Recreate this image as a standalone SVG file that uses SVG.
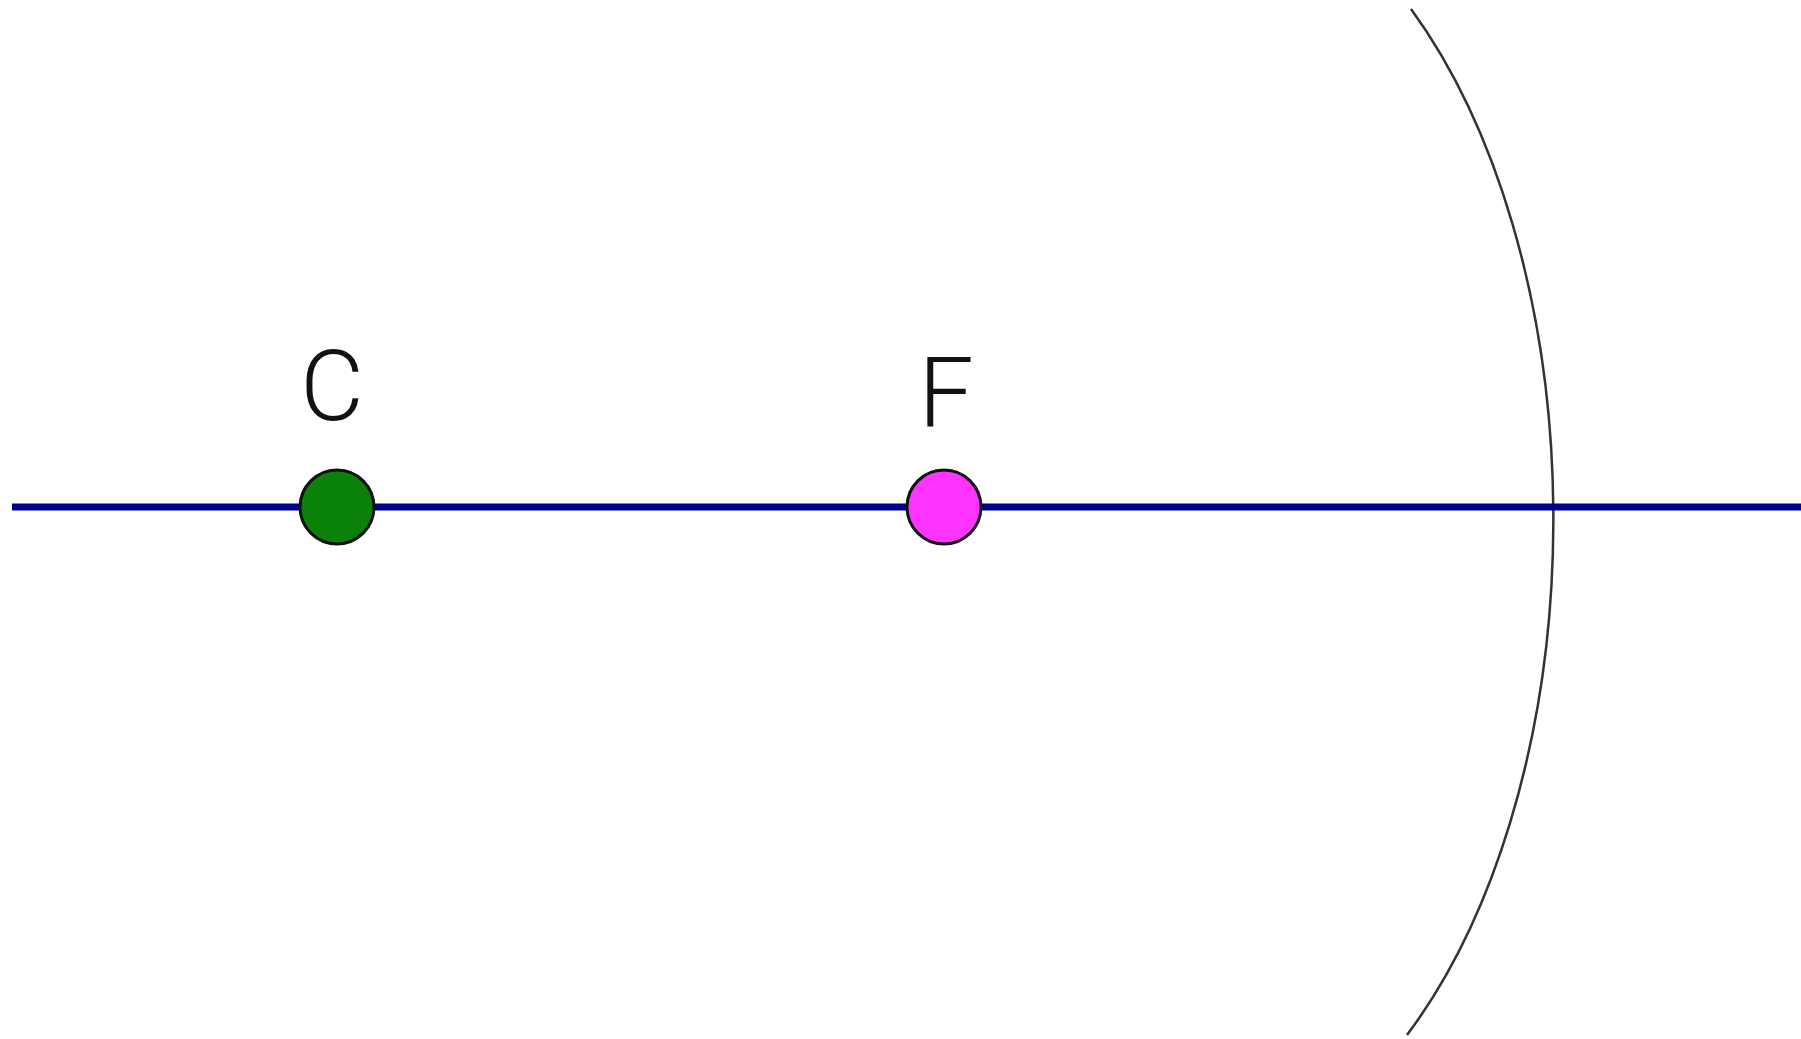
<svg xmlns="http://www.w3.org/2000/svg" width="1801" height="1039" viewBox="0 0 1801 1039">
  <style>
    .lbl { font-family: Roboto, "Liberation Sans", sans-serif; font-weight: 300; font-size: 98px; fill: #111; text-anchor: middle; }
    .pt { stroke: #111; stroke-width: 3; }
  </style>
  <rect width="1801" height="1039" fill="#ffffff"/>
  <g id="mirror">
    <path d="M 1411 9 A 374 650 0 0 1 1407 1035" fill="none" stroke="#333333" stroke-width="2.5"/>
  </g>
  <g id="connectors">
    <line x1="12" y1="507" x2="1801" y2="507" stroke="#000090" stroke-width="7"/>
  </g>
  <g id="node-C">
    <circle class="pt" cx="337" cy="507" r="37" fill="#0a820a"/>
    <text class="lbl" x="332" y="420">C</text>
  </g>
  <g id="node-F">
    <circle class="pt" cx="944" cy="507" r="37" fill="#ff33ff"/>
    <text class="lbl" x="946" y="427">F</text>
  </g>
</svg>
